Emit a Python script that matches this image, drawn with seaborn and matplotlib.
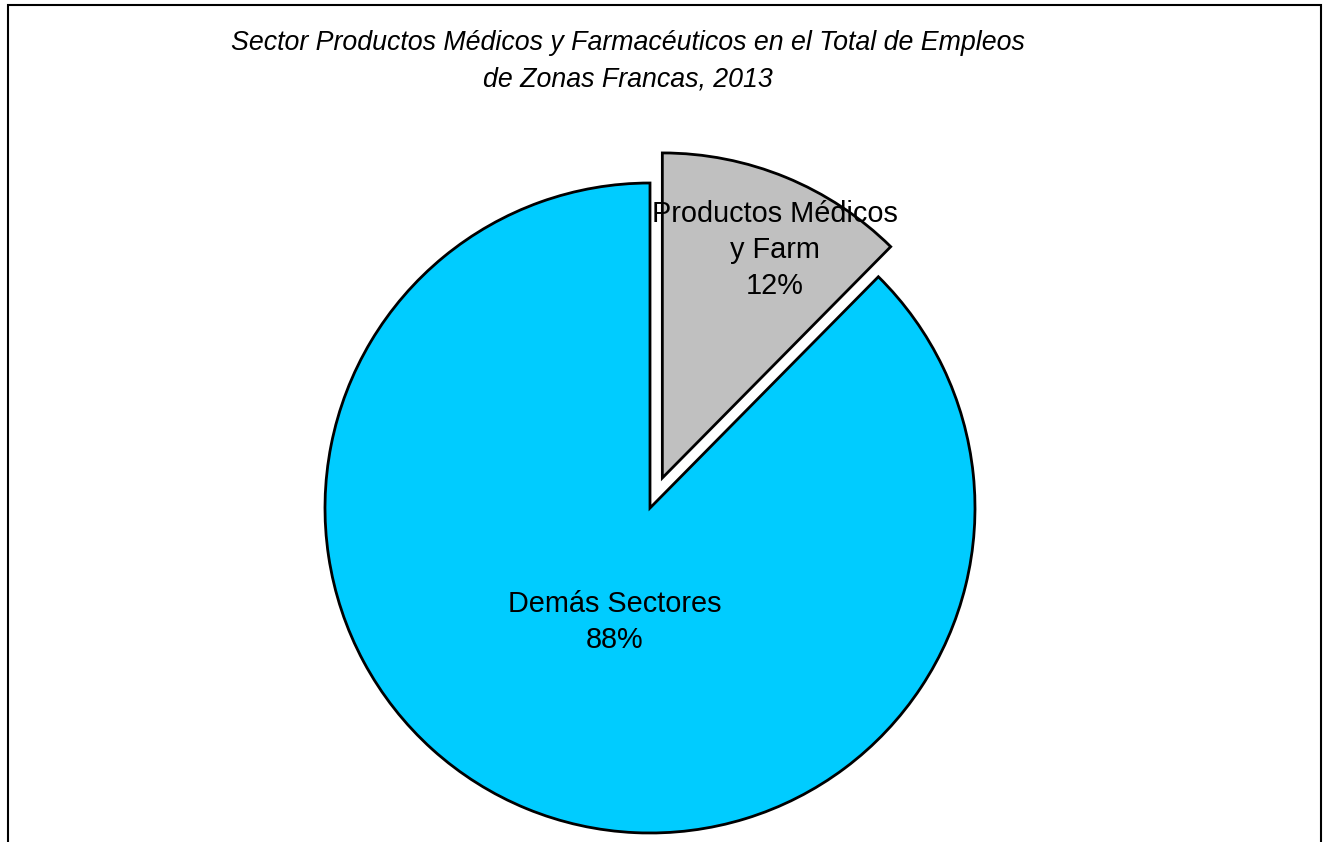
import matplotlib
matplotlib.use("Agg")
import matplotlib.pyplot as plt
import seaborn as sns
from matplotlib.patches import Rectangle

# shares of free-zone employment, 2013
sectors = ["Productos Médicos\ny Farm", "Demás Sectores"]
shares = [12.4, 87.6]
colors = ["#C0C0C0", "#00CCFF"]
title = "Sector Productos Médicos y Farmacéuticos en el Total de Empleos\nde Zonas Francas, 2013"

sns.set_theme(style="white")
plt.rcParams["font.family"] = ["Liberation Sans", "DejaVu Sans"]

fig = plt.figure(figsize=(13.23, 8.42), dpi=100)
ax = fig.add_axes([0, 0, 1, 1])

wedges, _ = ax.pie(shares, colors=colors, explode=[0.1, 0], startangle=90,
                   counterclock=False, radius=1,
                   wedgeprops=dict(edgecolor="black", linewidth=2))

# label positions in data units (pie radius = 1)
label_pos = [(0.385, 0.794), (-0.11, -0.352)]
for name, val, (x, y) in zip(sectors, shares, label_pos):
    ax.text(x, y, f"{name}\n{val:.0f}%", ha="center", va="center",
            fontsize=20.8, color="black", linespacing=1.37)

# map the axes so the pie centre sits at (650, 508) px with radius 325 px
ax.set_xlim(-650 / 325, (1323 - 650) / 325)
ax.set_ylim((508 - 842) / 325, 508 / 325)
ax.set_aspect("auto")
ax.axis("off")

fig.text(628 / 1323, 1 - 61 / 842, title, ha="center", va="center",
         fontsize=19.3, style="italic", color="black", linespacing=1.5)

# chart area border (bottom is cut off in the original)
fig.patches.append(Rectangle((8 / 1323, -0.1), (1321 - 8) / 1323, 1.1 - 5 / 842,
                             transform=fig.transFigure, fill=False,
                             edgecolor="black", linewidth=1.5))

fig.savefig("out.png", dpi=100)
